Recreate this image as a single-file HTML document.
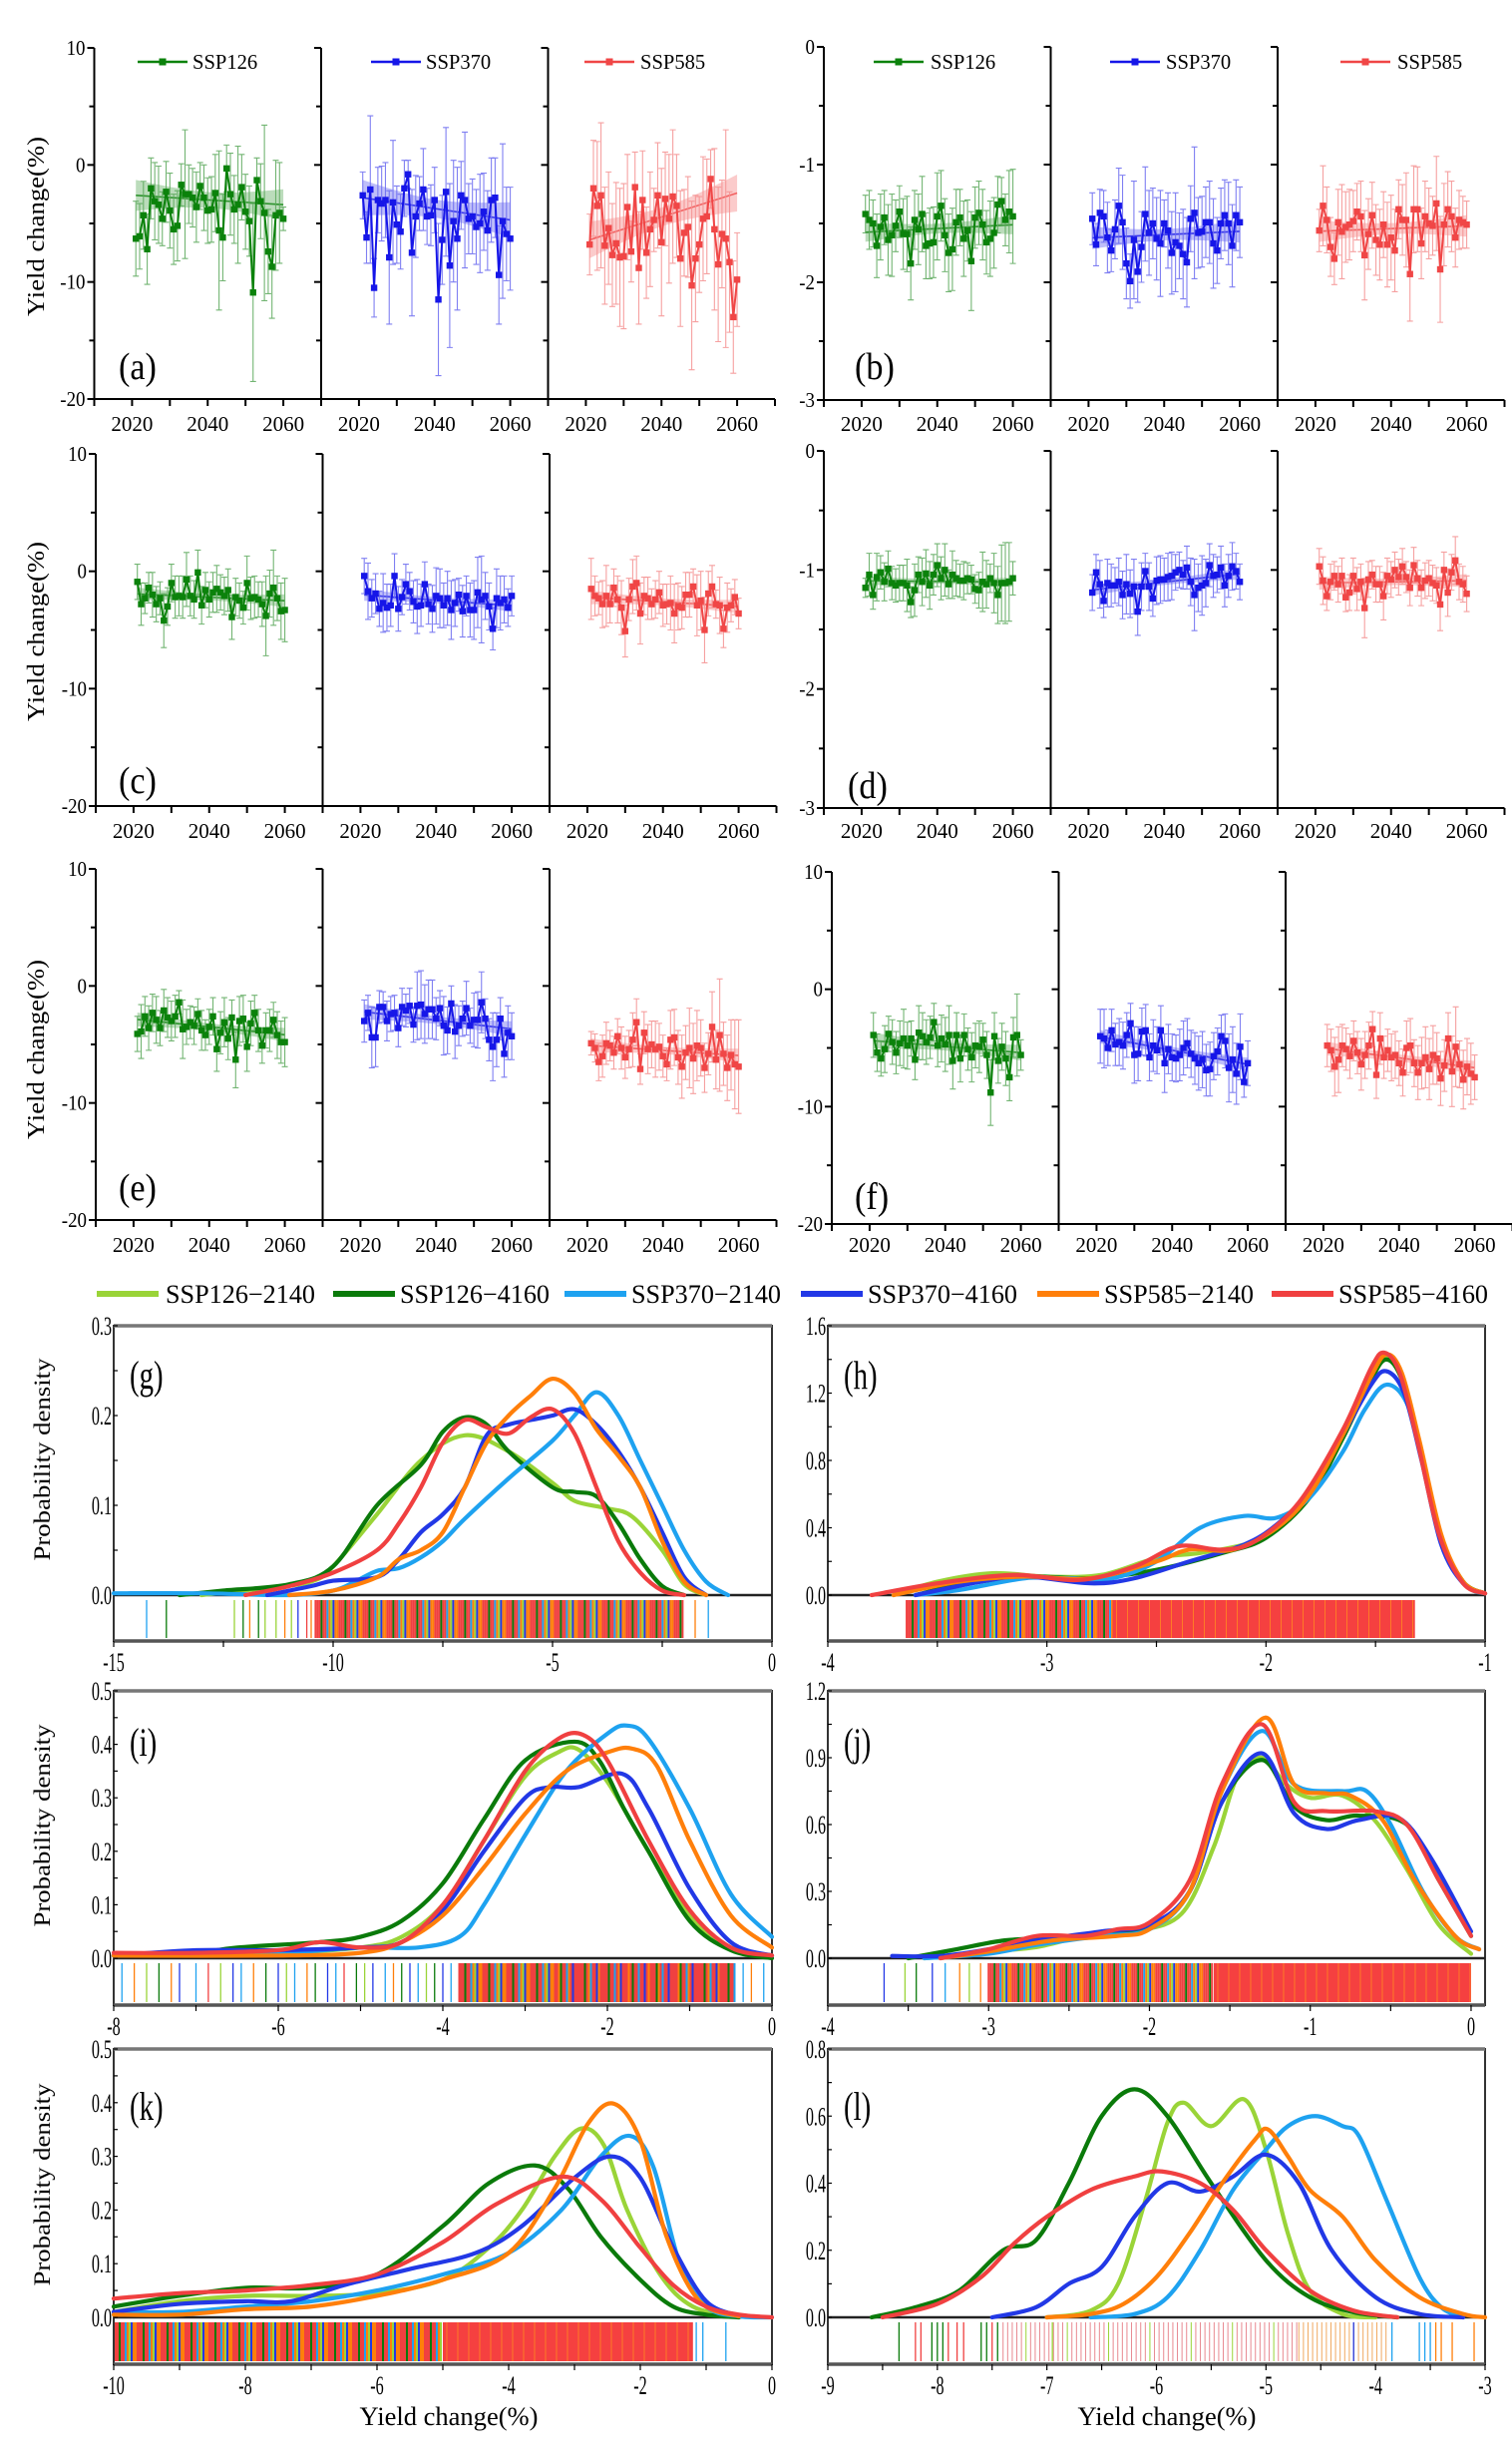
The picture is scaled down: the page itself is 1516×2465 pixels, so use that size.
<!DOCTYPE html>
<html><head><meta charset="utf-8"><style>
html,body{margin:0;padding:0;background:#fff}
svg{display:block}
text{font-family:"Liberation Serif","Times New Roman",serif;fill:#000}
</style></head><body>
<svg id="fig" xmlns="http://www.w3.org/2000/svg" width="1516" height="2465" viewBox="0 0 1516 2465" font-family="Liberation Serif, Times New Roman, serif"></svg>
<script>
// ===== Time-series data (2021-2060) =====
const years = [2021,2022,2023,2024,2025,2026,2027,2028,2029,2030,2031,2032,2033,2034,2035,2036,2037,2038,2039,2040,2041,2042,2043,2044,2045,2046,2047,2048,2049,2050,2051,2052,2053,2054,2055,2056,2057,2058,2059,2060];
const a126 = [-6.3,-6.1,-4.3,-7.2,-2.0,-3.1,-3.4,-4.6,-2.3,-3.9,-5.5,-5.2,-1.7,-2.5,-2.5,-2.8,-3.6,-1.8,-2.8,-3.9,-3.8,-2.4,-5.6,-6.2,-0.3,-2.5,-3.8,-3.4,-1.9,-4.0,-4.8,-10.9,-1.3,-3.1,-4.1,-7.4,-8.7,-4.3,-4.1,-4.6];
const a370 = [-2.6,-6.2,-2.1,-10.5,-3.0,-3.3,-3.0,-7.9,-3.2,-5.1,-5.7,-2.0,-0.8,-7.5,-4.4,-3.3,-2.1,-4.4,-4.3,-3.0,-11.5,-6.4,-2.3,-8.6,-4.8,-6.3,-2.6,-3.0,-4.6,-4.4,-5.3,-5.0,-4.0,-5.6,-3.0,-2.8,-9.4,-4.8,-5.9,-6.3];
const a585 = [-6.8,-2.0,-3.5,-2.6,-6.9,-5.4,-7.7,-6.7,-7.9,-7.8,-3.6,-7.4,-1.9,-8.8,-3.0,-7.5,-5.5,-4.7,-2.6,-6.6,-2.9,-4.6,-2.7,-3.5,-8.0,-5.8,-5.3,-10.3,-8.0,-6.8,-4.6,-4.4,-1.2,-5.5,-8.5,-5.9,-6.3,-8.3,-13.0,-9.8];
const a126e = [3.2,2.8,2.9,3.0,2.6,3.3,3.3,2.3,2.6,3.2,3.0,3.0,1.8,5.5,2.5,2.5,3.0,2.0,2.8,2.8,2.8,3.3,6.8,3.7,2.0,3.5,2.9,5.0,2.8,3.2,3.0,7.6,1.9,3.2,7.5,3.6,4.4,4.7,4.3,1.0];
const a370e = [2.0,2.2,6.3,2.5,2.8,3.2,3.2,5.7,5.3,3.3,3.2,2.4,1.2,5.4,3.5,2.3,3.5,2.4,2.6,2.8,6.5,3.8,5.5,7.0,5.2,6.1,2.9,5.8,3.0,3.2,3.2,4.2,3.3,3.4,3.6,3.4,4.2,6.6,4.0,4.4];
const a585e = [2.6,4.1,5.5,6.2,5.0,4.8,4.4,5.2,5.9,6.2,4.5,2.6,3.0,4.8,4.2,3.9,4.9,2.7,4.5,6.3,4.0,5.5,5.7,4.4,5.8,3.7,4.3,7.2,5.4,4.1,5.3,4.9,2.5,6.9,6.6,4.6,9.3,6.0,4.8,4.0];
const trendA = [[-2.6,-3.4],[-2.8,-4.7],[-6.4,-2.4]];
const b126 = [-1.42,-1.47,-1.50,-1.69,-1.53,-1.45,-1.64,-1.60,-1.52,-1.40,-1.59,-1.59,-1.84,-1.47,-1.55,-1.42,-1.69,-1.67,-1.66,-1.44,-1.35,-1.60,-1.75,-1.72,-1.49,-1.45,-1.63,-1.56,-1.82,-1.45,-1.41,-1.51,-1.66,-1.63,-1.58,-1.34,-1.31,-1.47,-1.40,-1.44];
const b370 = [-1.46,-1.68,-1.41,-1.44,-1.62,-1.73,-1.55,-1.35,-1.49,-1.84,-1.99,-1.64,-1.91,-1.70,-1.42,-1.58,-1.50,-1.63,-1.67,-1.50,-1.56,-1.75,-1.66,-1.69,-1.76,-1.83,-1.46,-1.41,-1.58,-1.57,-1.49,-1.49,-1.67,-1.73,-1.50,-1.43,-1.50,-1.69,-1.43,-1.49];
const b585 = [-1.56,-1.35,-1.47,-1.70,-1.80,-1.49,-1.57,-1.53,-1.51,-1.48,-1.40,-1.44,-1.77,-1.59,-1.43,-1.64,-1.68,-1.51,-1.68,-1.62,-1.73,-1.38,-1.47,-1.47,-1.93,-1.38,-1.38,-1.67,-1.44,-1.50,-1.52,-1.33,-1.89,-1.51,-1.38,-1.44,-1.62,-1.47,-1.49,-1.51];
const b126e = [0.16,0.25,0.2,0.27,0.28,0.23,0.3,0.35,0.22,0.22,0.3,0.32,0.31,0.25,0.3,0.32,0.28,0.3,0.3,0.37,0.3,0.31,0.33,0.35,0.28,0.24,0.32,0.26,0.42,0.26,0.27,0.3,0.27,0.32,0.3,0.24,0.2,0.22,0.35,0.4];
const b370e = [0.22,0.18,0.2,0.22,0.3,0.18,0.25,0.32,0.4,0.3,0.23,0.5,0.26,0.3,0.4,0.36,0.3,0.35,0.45,0.2,0.32,0.35,0.42,0.28,0.38,0.38,0.28,0.56,0.3,0.3,0.3,0.35,0.38,0.28,0.3,0.3,0.35,0.35,0.3,0.3];
const b585e = [0.18,0.34,0.28,0.25,0.22,0.28,0.4,0.3,0.3,0.26,0.24,0.3,0.38,0.3,0.28,0.3,0.3,0.28,0.36,0.36,0.35,0.25,0.3,0.4,0.4,0.37,0.36,0.3,0.3,0.3,0.25,0.4,0.45,0.35,0.32,0.3,0.25,0.25,0.22,0.2];
const c126 = [-0.9,-2.8,-2.3,-1.4,-2.0,-2.8,-2.3,-4.2,-3.0,-1.0,-2.2,-2.1,-2.2,-0.7,-2.1,-2.4,-0.1,-2.9,-1.6,-2.4,-1.8,-1.5,-1.8,-2.1,-1.6,-3.9,-2.2,-2.5,-3.1,-1.0,-2.3,-2.2,-2.4,-2.8,-3.8,-1.9,-1.4,-2.3,-3.4,-3.3];
const c370 = [-0.4,-1.7,-2.3,-1.9,-3.2,-2.7,-3.1,-2.9,-0.4,-3.2,-2.2,-1.1,-1.7,-2.6,-3.0,-2.9,-1.1,-2.8,-3.2,-2.1,-2.3,-2.9,-2.3,-3.3,-2.7,-2.0,-3.4,-2.1,-3.3,-3.3,-1.8,-2.4,-2.1,-3.0,-4.9,-2.3,-2.7,-2.4,-3.1,-2.1];
const c585 = [-1.5,-2.1,-2.3,-2.8,-2.1,-2.8,-1.4,-2.4,-3.1,-5.1,-2.4,-1.3,-1.0,-3.6,-2.1,-2.3,-2.8,-2.4,-1.8,-2.9,-2.8,-2.7,-3.6,-3.0,-3.1,-2.0,-2.0,-1.3,-2.9,-2.5,-5.0,-1.9,-1.3,-2.8,-2.9,-4.9,-3.1,-2.9,-2.2,-3.6];
const c126e = [1.5,1.8,1.3,1.3,1.9,1.5,1.4,2.3,1.6,1.6,1.8,1.7,1.8,2.3,1.7,1.6,1.9,1.6,1.5,1.5,1.7,2.0,1.5,1.6,1.8,1.9,1.6,1.5,1.4,2.3,1.8,1.8,1.5,1.9,3.4,2.0,3.2,1.9,2.4,2.7];
const c370e = [1.5,2.4,1.6,1.7,1.5,2.5,2.0,1.8,1.9,1.9,1.5,1.7,1.6,1.8,2.3,1.8,1.9,1.7,2.0,2.4,2.5,1.9,2.3,2.5,2.0,1.4,2.2,1.7,2.3,2.5,3.0,3.7,2.0,2.0,1.8,2.5,2.3,2.0,1.6,1.7];
const c585e = [2.6,1.7,1.4,2.0,2.6,1.6,1.6,2.0,2.3,2.2,1.8,2.3,2.3,2.6,1.6,1.8,1.3,1.6,1.8,1.8,1.7,2.3,2.5,2.0,1.8,1.9,1.9,1.5,2.6,2.5,2.8,1.9,1.8,1.2,2.4,1.6,2.1,1.4,1.5,1.3];
const d126 = [-1.15,-1.04,-1.21,-1.06,-1.02,-1.10,-0.99,-1.11,-1.13,-1.11,-1.11,-1.13,-1.27,-1.17,-1.04,-1.10,-1.03,-1.13,-1.04,-0.96,-1.07,-1.00,-1.12,-1.04,-1.07,-1.09,-1.09,-1.07,-1.08,-1.16,-1.17,-1.10,-1.12,-1.07,-1.11,-1.21,-1.11,-1.11,-1.10,-1.07];
const d370 = [-1.19,-1.02,-1.12,-1.26,-1.11,-1.13,-1.13,-1.10,-1.21,-1.12,-1.20,-1.14,-1.35,-1.14,-1.01,-1.14,-1.24,-1.09,-1.08,-1.08,-1.06,-1.05,-1.02,-1.00,-1.04,-0.98,-1.10,-1.21,-1.15,-1.13,-1.11,-0.96,-1.05,-1.04,-0.98,-1.13,-1.05,-0.97,-1.01,-1.10];
const d585 = [-0.97,-1.09,-1.22,-1.10,-1.05,-1.12,-1.05,-1.23,-1.19,-1.05,-1.16,-1.10,-1.32,-1.08,-1.04,-1.12,-1.12,-1.22,-1.05,-1.08,-1.00,-1.06,-0.97,-1.06,-1.15,-0.96,-1.07,-1.15,-1.09,-1.07,-1.11,-1.13,-1.29,-1.00,-1.19,-1.02,-0.92,-1.10,-1.12,-1.20];
const d126e = [0.08,0.18,0.12,0.2,0.14,0.16,0.15,0.14,0.14,0.15,0.15,0.22,0.13,0.22,0.15,0.2,0.2,0.2,0.17,0.18,0.18,0.22,0.12,0.2,0.15,0.14,0.16,0.13,0.12,0.12,0.15,0.25,0.2,0.12,0.25,0.24,0.32,0.34,0.33,0.14];
const d370e = [0.15,0.15,0.2,0.14,0.2,0.18,0.15,0.2,0.2,0.25,0.2,0.23,0.2,0.2,0.15,0.2,0.15,0.2,0.2,0.18,0.2,0.2,0.15,0.15,0.12,0.18,0.2,0.3,0.2,0.25,0.2,0.18,0.18,0.15,0.18,0.18,0.18,0.2,0.15,0.15];
const d585e = [0.15,0.2,0.12,0.15,0.12,0.15,0.15,0.12,0.15,0.15,0.18,0.15,0.25,0.15,0.12,0.15,0.15,0.2,0.15,0.15,0.15,0.15,0.15,0.13,0.15,0.15,0.15,0.15,0.15,0.15,0.15,0.15,0.22,0.15,0.2,0.15,0.2,0.15,0.15,0.15];
const e126 = [-4.1,-3.9,-2.6,-3.6,-2.3,-2.9,-3.6,-2.1,-2.7,-3.0,-2.6,-1.4,-3.7,-3.5,-3.1,-3.4,-2.4,-3.8,-4.2,-3.5,-2.6,-5.4,-4.0,-3.1,-4.5,-2.7,-6.3,-3.0,-2.8,-5.2,-3.2,-2.3,-3.8,-5.1,-3.8,-3.8,-2.9,-4.2,-4.8,-4.8];
const e370 = [-3.0,-2.3,-4.4,-4.4,-1.8,-1.8,-3.0,-2.4,-2.3,-3.6,-1.8,-2.1,-1.7,-3.3,-1.7,-1.6,-2.4,-2.0,-2.0,-2.8,-1.9,-3.4,-3.8,-1.5,-3.9,-3.4,-2.8,-1.9,-3.4,-2.9,-2.9,-1.4,-2.8,-4.6,-5.2,-4.6,-2.8,-5.8,-4.0,-4.3];
const e585 = [-4.9,-5.3,-6.5,-6.0,-4.9,-5.1,-5.7,-4.3,-5.3,-6.1,-5.4,-4.6,-3.1,-7.1,-4.0,-5.4,-5.0,-5.4,-5.2,-6.0,-6.7,-4.6,-4.4,-6.1,-6.9,-5.7,-5.3,-6.2,-5.1,-5.3,-7.0,-5.8,-3.5,-6.3,-4.2,-5.8,-7.0,-5.9,-6.7,-6.9];
const e126e = [1.5,2.3,1.7,1.9,1.6,2.0,1.5,1.8,1.7,1.7,1.8,1.0,2.5,1.5,1.4,1.6,1.3,1.7,1.3,1.5,1.6,1.9,1.8,2.1,1.8,1.5,2.4,2.1,2.0,2.1,1.9,1.5,1.8,1.5,1.5,1.8,1.5,2.0,1.8,2.1];
const e370e = [1.8,1.5,2.6,2.5,1.4,1.3,1.7,1.5,1.5,1.6,1.6,1.4,1.5,1.5,2.9,2.9,2.5,2.5,2.5,1.8,1.5,2.5,2.0,1.5,2.3,1.7,1.5,2.3,1.5,2.3,2.4,2.6,1.7,1.8,2.9,2.3,1.8,2.0,2.3,2.0];
const e585e = [1.0,1.2,1.6,1.8,1.8,1.3,1.4,1.5,1.8,1.8,1.6,2.3,2.0,1.3,1.8,2.1,2.0,2.4,2.0,1.8,1.4,2.5,2.4,2.3,2.7,2.3,3.4,3.0,3.0,2.4,2.1,1.8,3.0,2.5,4.8,2.7,2.8,3.0,3.8,4.0];
const f126 = [-3.9,-5.4,-5.9,-5.1,-3.8,-4.5,-5.4,-4.6,-4.2,-4.8,-4.2,-6.0,-3.7,-4.0,-4.5,-4.1,-2.8,-4.8,-4.2,-4.7,-3.9,-6.1,-3.9,-5.9,-3.9,-5.1,-5.8,-4.8,-4.9,-4.3,-5.6,-8.8,-4.0,-6.1,-4.9,-5.9,-7.5,-4.1,-3.9,-5.6];
const f370 = [-4.0,-4.2,-5.0,-3.5,-4.7,-4.5,-4.8,-3.9,-2.9,-5.6,-5.5,-3.6,-3.5,-5.8,-4.8,-5.2,-3.5,-6.3,-5.1,-5.8,-5.9,-5.6,-5.0,-4.6,-5.5,-5.9,-6.3,-6.0,-6.9,-6.8,-5.7,-5.3,-4.0,-4.4,-6.7,-6.0,-7.2,-4.9,-7.9,-6.3];
const f585 = [-4.8,-5.2,-6.6,-6.0,-4.8,-5.1,-5.7,-4.4,-5.4,-6.4,-5.6,-4.8,-3.4,-7.3,-4.2,-5.8,-5.2,-5.8,-5.6,-6.3,-7.1,-5.0,-4.8,-6.3,-7.1,-6.3,-5.8,-6.8,-5.6,-5.9,-7.6,-6.5,-4.2,-7.0,-4.9,-6.4,-7.7,-6.6,-7.2,-7.5];
const f126e = [1.9,1.6,1.5,2.0,1.5,1.9,1.8,1.9,2.5,2.0,1.5,1.7,2.3,2.0,1.9,1.8,1.6,1.8,2.0,2.3,2.5,2.4,1.9,2.0,1.8,1.8,2.1,1.9,2.2,1.4,2.0,2.8,2.0,1.9,2.0,2.3,2.0,1.7,3.5,1.3];
const f370e = [2.3,2.5,1.5,1.8,1.8,2.0,2.0,1.9,1.7,2.4,2.3,2.0,2.2,2.0,2.2,2.0,2.1,2.5,2.1,2.0,2.0,2.2,2.3,2.1,2.0,2.2,2.3,2.4,2.2,2.3,2.0,2.0,1.8,2.3,2.9,2.8,2.6,2.8,1.3,1.9];
const f585e = [1.8,1.8,2.5,2.8,1.8,1.8,1.9,1.7,1.8,2.2,2.0,2.0,1.5,2.0,2.2,1.8,1.8,2.0,2.0,1.9,2.0,2.3,2.3,2.0,2.3,2.2,2.6,2.6,2.5,2.2,2.3,2.2,2.2,3.0,3.4,2.0,2.5,2.4,2.6,1.9];
const yearTicks = [2020,2040,2060];
const tsScenarios = ['SSP126','SSP370','SSP585'];

// ===== Density curve data: [x, density] =====
const densLabels = ['SSP126\u22122140','SSP126\u22124160','SSP370\u22122140','SSP370\u22124160','SSP585\u22122140','SSP585\u22124160'];
const gLG=[[-13,0],[-11.5,0.008],[-10.5,0.015],[-10,0.032],[-9,0.09],[-8,0.15],[-7,0.178],[-6,0.16],[-5,0.125],[-4.5,0.105],[-3.8,0.097],[-3.2,0.088],[-2.5,0.05],[-2,0.012],[-1.5,0]];
const gDG=[[-13.5,0],[-12.5,0.005],[-11,0.012],[-10,0.032],[-9,0.1],[-8,0.145],[-7.5,0.182],[-7,0.198],[-6.5,0.19],[-6,0.16],[-5,0.12],[-4.5,0.115],[-4,0.11],[-3.5,0.08],[-3,0.04],[-2.5,0.01],[-2,0]];
const gLB=[[-15,0.002],[-13,0.002],[-11,0],[-10,0.005],[-9.5,0.015],[-9,0.027],[-8.5,0.03],[-8,0.042],[-7.5,0.06],[-7,0.085],[-6,0.13],[-5,0.172],[-4.5,0.2],[-4,0.226],[-3.5,0.2],[-3,0.15],[-2.5,0.1],[-2,0.05],[-1.5,0.015],[-1,0]];
const gBL=[[-11.5,0],[-10.5,0.01],[-10,0.016],[-9,0.02],[-8.5,0.04],[-8,0.07],[-7.5,0.09],[-7,0.12],[-6.5,0.178],[-6,0.19],[-5.5,0.195],[-5,0.2],[-4.5,0.207],[-4,0.19],[-3.5,0.16],[-3,0.12],[-2.5,0.07],[-2,0.02],[-1.5,0]];
const gOR=[[-11,0],[-10,0.005],[-9,0.02],[-8.5,0.04],[-8,0.05],[-7.5,0.07],[-7,0.12],[-6.5,0.17],[-6,0.2],[-5.5,0.222],[-5,0.241],[-4.5,0.225],[-4,0.185],[-3.5,0.155],[-3,0.12],[-2.5,0.06],[-2,0.015],[-1.5,0]];
const gRD=[[-12,0],[-11,0.01],[-10,0.025],[-9,0.05],[-8.5,0.08],[-8,0.12],[-7.5,0.17],[-7,0.195],[-6.5,0.187],[-6,0.18],[-5.5,0.198],[-5,0.207],[-4.5,0.18],[-4,0.12],[-3.5,0.06],[-3,0.025],[-2.5,0.005],[-2,0]];
const hLG=[[-3.7,0],[-3.5,0.08],[-3.25,0.13],[-3,0.11],[-2.75,0.12],[-2.5,0.22],[-2.3,0.25],[-2.1,0.3],[-2,0.35],[-1.8,0.6],[-1.65,0.95],[-1.52,1.3],[-1.45,1.42],[-1.38,1.3],[-1.3,0.9],[-1.2,0.35],[-1.1,0.08],[-1,0.01]];
const hDG=[[-3.6,0],[-3.4,0.06],[-3.1,0.11],[-2.8,0.1],[-2.5,0.15],[-2.2,0.25],[-2,0.34],[-1.8,0.58],[-1.65,0.93],[-1.52,1.28],[-1.45,1.4],[-1.38,1.28],[-1.3,0.9],[-1.2,0.35],[-1.1,0.08],[-1,0.01]];
const hLB=[[-3.6,0],[-3.4,0.03],[-3.1,0.1],[-2.9,0.1],[-2.7,0.1],[-2.5,0.2],[-2.3,0.4],[-2.1,0.47],[-1.95,0.46],[-1.8,0.58],[-1.65,0.85],[-1.55,1.1],[-1.45,1.25],[-1.35,1.12],[-1.27,0.7],[-1.18,0.25],[-1.08,0.05],[-1,0.01]];
const hBL=[[-3.6,0],[-3.3,0.08],[-3.1,0.11],[-2.8,0.07],[-2.6,0.1],[-2.35,0.2],[-2.1,0.3],[-1.95,0.42],[-1.8,0.62],[-1.65,0.95],[-1.52,1.25],[-1.45,1.33],[-1.37,1.2],[-1.29,0.8],[-1.2,0.3],[-1.1,0.07],[-1,0.01]];
const hOR=[[-3.7,0],[-3.4,0.08],[-3.1,0.11],[-2.8,0.1],[-2.5,0.2],[-2.35,0.27],[-2.15,0.27],[-1.95,0.4],[-1.8,0.6],[-1.65,0.95],[-1.52,1.3],[-1.45,1.43],[-1.38,1.32],[-1.3,0.92],[-1.2,0.36],[-1.1,0.08],[-1,0.01]];
const hRD=[[-3.8,0],[-3.5,0.07],[-3.15,0.12],[-2.85,0.09],[-2.6,0.17],[-2.4,0.29],[-2.2,0.27],[-2.05,0.32],[-1.85,0.55],[-1.65,0.98],[-1.52,1.35],[-1.46,1.44],[-1.39,1.32],[-1.31,0.92],[-1.21,0.36],[-1.1,0.07],[-1,0.01]];
const iLG=[[-8,0.005],[-6,0.01],[-5,0.02],[-4.5,0.04],[-4,0.1],[-3.5,0.22],[-3,0.34],[-2.6,0.385],[-2.35,0.39],[-2,0.33],[-1.5,0.2],[-1,0.08],[-0.5,0.02],[0,0.005]];
const iDG=[[-8,0.005],[-7,0.01],[-6.5,0.02],[-5.5,0.03],[-5,0.04],[-4.5,0.07],[-4,0.14],[-3.5,0.26],[-3,0.37],[-2.4,0.405],[-2.1,0.37],[-1.8,0.28],[-1.5,0.2],[-1,0.07],[-0.5,0.015],[0,0]];
const iLB=[[-8,0.005],[-6,0.01],[-5,0.02],[-4.3,0.02],[-3.8,0.04],[-3.5,0.1],[-3,0.23],[-2.5,0.35],[-2,0.42],[-1.76,0.435],[-1.5,0.41],[-1,0.28],[-0.5,0.12],[0,0.04]];
const iBL=[[-8,0.005],[-7,0.015],[-6,0.015],[-5,0.02],[-4.5,0.03],[-4,0.09],[-3.5,0.2],[-3,0.3],[-2.7,0.32],[-2.35,0.32],[-1.82,0.345],[-1.5,0.28],[-1,0.13],[-0.5,0.03],[0,0.005]];
const iOR=[[-8,0.005],[-6,0.005],[-5,0.01],[-4.5,0.03],[-4,0.08],[-3.5,0.17],[-3,0.27],[-2.5,0.35],[-2,0.385],[-1.7,0.392],[-1.4,0.36],[-1,0.22],[-0.5,0.08],[0,0.02]];
const iRD=[[-8,0.01],[-7,0.01],[-6,0.015],[-5.5,0.03],[-5,0.02],[-4.5,0.03],[-4,0.1],[-3.5,0.22],[-3,0.35],[-2.6,0.41],[-2.3,0.418],[-2,0.37],[-1.5,0.22],[-1,0.09],[-0.5,0.02],[0,0.005]];
const jLG=[[-3.4,0],[-3,0.03],[-2.7,0.05],[-2.4,0.1],[-2.1,0.12],[-1.8,0.2],[-1.6,0.5],[-1.45,0.82],[-1.3,0.9],[-1.15,0.78],[-1,0.72],[-0.8,0.73],[-0.6,0.62],[-0.4,0.4],[-0.2,0.15],[0,0.02]];
const jDG=[[-3.5,0],[-3.2,0.04],[-2.9,0.08],[-2.6,0.09],[-2.3,0.11],[-2,0.14],[-1.75,0.3],[-1.55,0.7],[-1.3,0.89],[-1.1,0.68],[-0.9,0.62],[-0.7,0.64],[-0.4,0.6],[-0.2,0.35],[0,0.1]];
const jLB=[[-3.4,0],[-3,0.02],[-2.7,0.06],[-2.3,0.1],[-2,0.13],[-1.75,0.3],[-1.55,0.75],[-1.3,1.02],[-1.1,0.78],[-0.8,0.75],[-0.65,0.75],[-0.5,0.6],[-0.3,0.3],[-0.1,0.1],[0.05,0.04]];
const jBL=[[-3.6,0.01],[-3.3,0.01],[-3,0.04],[-2.7,0.08],[-2.3,0.12],[-2,0.15],[-1.75,0.3],[-1.55,0.7],[-1.3,0.92],[-1.1,0.65],[-0.9,0.58],[-0.7,0.62],[-0.45,0.63],[-0.25,0.45],[0,0.12]];
const jOR=[[-3.3,0],[-3,0.03],[-2.6,0.08],[-2.2,0.1],[-2,0.13],[-1.75,0.3],[-1.55,0.75],[-1.28,1.08],[-1.1,0.78],[-0.9,0.74],[-0.75,0.73],[-0.55,0.62],[-0.35,0.35],[-0.1,0.1],[0.05,0.04]];
const jRD=[[-3.3,0],[-3,0.04],[-2.7,0.1],[-2.4,0.1],[-2.2,0.13],[-2,0.16],[-1.75,0.35],[-1.55,0.78],[-1.3,1.05],[-1.1,0.7],[-0.9,0.66],[-0.6,0.66],[-0.4,0.6],[-0.2,0.35],[0,0.1]];
const kLG=[[-10,0.01],[-9,0.03],[-8,0.04],[-7,0.04],[-6,0.045],[-5,0.07],[-4.3,0.13],[-3.8,0.2],[-3.3,0.3],[-2.9,0.352],[-2.55,0.32],[-2.2,0.2],[-1.7,0.08],[-1.2,0.02],[-0.5,0]];
const kDG=[[-10,0.02],[-9,0.04],[-8,0.055],[-7,0.055],[-6,0.08],[-5,0.17],[-4.3,0.25],[-3.6,0.283],[-3.1,0.24],[-2.6,0.15],[-2,0.07],[-1.5,0.02],[-1,0.005],[-0.5,0]];
const kLB=[[-10,0.01],[-9,0.01],[-8,0.02],[-7,0.03],[-6,0.05],[-5,0.08],[-4,0.12],[-3.2,0.2],[-2.6,0.3],[-2.15,0.338],[-1.8,0.28],[-1.4,0.1],[-1,0.02],[-0.5,0.002],[0,0]];
const kBL=[[-10,0.01],[-9,0.025],[-8,0.03],[-7.3,0.03],[-6.5,0.06],[-5.5,0.09],[-4.5,0.12],[-3.8,0.17],[-3,0.26],[-2.45,0.3],[-2,0.26],[-1.5,0.13],[-1,0.03],[-0.5,0.003]];
const kOR=[[-10,0.005],[-9,0.005],[-8,0.015],[-7,0.02],[-6,0.04],[-5,0.07],[-4,0.12],[-3.3,0.24],[-2.8,0.36],[-2.4,0.398],[-2,0.33],[-1.6,0.15],[-1.1,0.03],[-0.5,0.002]];
const kRD=[[-10,0.035],[-9,0.045],[-8,0.05],[-7,0.06],[-6,0.08],[-5,0.14],[-4.2,0.21],[-3.2,0.262],[-2.6,0.22],[-2,0.13],[-1.5,0.06],[-1,0.02],[-0.5,0.005],[0,0]];
const lLG=[[-7,0],[-6.6,0.02],[-6.35,0.1],[-6.1,0.35],[-5.9,0.58],[-5.75,0.64],[-5.5,0.57],[-5.2,0.65],[-5,0.5],[-4.8,0.25],[-4.6,0.08],[-4.3,0.01],[-4,0]];
const lDG=[[-8.6,0],[-8.2,0.03],[-7.8,0.08],[-7.4,0.2],[-7.1,0.23],[-6.8,0.4],[-6.5,0.6],[-6.2,0.68],[-5.9,0.6],[-5.5,0.4],[-5,0.17],[-4.6,0.06],[-4.2,0.015],[-3.8,0]];
const lLB=[[-6.6,0],[-6.2,0.01],[-5.9,0.06],[-5.6,0.2],[-5.3,0.38],[-5,0.5],[-4.8,0.57],[-4.55,0.6],[-4.3,0.57],[-4.15,0.54],[-3.9,0.35],[-3.6,0.12],[-3.4,0.03],[-3.2,0]];
const lBL=[[-7.5,0],[-7.1,0.03],[-6.8,0.1],[-6.5,0.15],[-6.2,0.3],[-5.9,0.4],[-5.6,0.375],[-5.3,0.42],[-5,0.485],[-4.7,0.4],[-4.4,0.2],[-4,0.06],[-3.6,0.01],[-3.2,0]];
const lOR=[[-7,0],[-6.6,0.01],[-6.3,0.04],[-6,0.12],[-5.7,0.25],[-5.4,0.4],[-5.1,0.53],[-4.98,0.56],[-4.8,0.48],[-4.6,0.38],[-4.3,0.3],[-4,0.17],[-3.6,0.06],[-3.2,0.01],[-3,0]];
const lRD=[[-8.5,0],[-8,0.04],[-7.6,0.12],[-7.3,0.22],[-7,0.3],[-6.6,0.38],[-6.2,0.42],[-5.95,0.435],[-5.6,0.4],[-5.3,0.32],[-5,0.2],[-4.6,0.08],[-4.2,0.02],[-3.8,0]];
// rug samples: [value, scenario index]
const gRug=[[-14.25,2],[-13.8,1],[-12.25,0],[-12.05,1],[-11.9,4],[-11.7,1],[-11.55,0],[-11.3,0],[-11.1,4],[-10.95,0],[-10.8,3],[-10.6,5],[-10.5,4],[-1.75,4],[-1.45,2]];
const iRug=[[-7.9,2],[-7.75,4],[-7.6,0],[-7.45,1],[-7.3,4],[-7.2,3],[-7.0,2],[-6.85,5],[-6.7,0],[-6.55,3],[-6.45,2],[-6.3,4],[-6.15,1],[-6.0,3],[-5.9,0],[-5.8,2],[-5.65,4],[-5.55,1],[-5.4,3],[-5.3,2],[-5.2,5],[-5.05,1],[-4.95,0],[-4.85,3],[-4.7,2],[-4.6,4],[-4.5,1],[-4.4,3],[-4.3,2],[-4.2,0],[-4.1,1],[-4.0,3],[-3.9,2],[-0.35,2],[-0.25,4],[-0.1,2]];
const jRug=[[-3.65,3],[-3.52,0],[-3.45,1],[-3.35,3],[-3.27,2],[-3.18,4],[-3.12,0],[-3.05,4]];
const kRug=[[-1.15,2],[-1.05,2],[-0.7,2]];
const lRug=[[-8.35,1],[-8.2,5],[-8.15,5],[-8.05,1],[-8.0,1],[-7.95,1],[-7.9,5],[-7.82,5],[-7.76,5],[-7.6,1],[-7.55,1],[-7.5,5],[-7.45,1],[-6.95,0],[-4.2,3],[-3.85,2],[-3.6,2],[-3.55,2],[-3.5,2],[-3.45,4],[-3.4,4],[-3.3,4],[-3.1,4]];
// rug dense regions: [from, to, mode]
const gDense=[[-10.4,-2.0,'mix']];
const hDense=[[-3.64,-2.7,'mix'],[-2.7,-1.32,'red']];
const iDense=[[-3.8,-0.45,'mixred']];
const jDense=[[-3.0,-1.6,'mix'],[-1.6,0,'red']];
const kDense=[[-10,-5,'mix'],[-5,-1.2,'red']];
const lDense=[[-7.4,-4.7,'thinred'],[-4.7,-3.9,'thinor']];

// ===== helpers =====
const NS='http://www.w3.org/2000/svg';
const svg=document.getElementById('fig');
function mk(tag,attrs,parent){const e=document.createElementNS(NS,tag);for(const k in attrs)e.setAttribute(k,attrs[k]);(parent||svg).appendChild(e);return e;}
function txt(x,y,s,size,anchor,sx,parent){const e=mk('text',{transform:`translate(${x} ${y}) scale(${sx||1} 1)`,'font-size':size,'text-anchor':anchor||'start','font-family':'Liberation Serif, Times New Roman, serif'},parent);e.textContent=s;return e;}
function smooth(pts){let d=`M${pts[0][0]},${pts[0][1]}`;for(let i=0;i<pts.length-1;i++){const p0=pts[i-1]||pts[i],p1=pts[i],p2=pts[i+1],p3=pts[i+2]||p2;const c1=[p1[0]+(p2[0]-p0[0])/6,p1[1]+(p2[1]-p0[1])/6],c2=[p2[0]-(p3[0]-p1[0])/6,p2[1]-(p3[1]-p1[1])/6];d+=`C${c1[0]},${c1[1]} ${c2[0]},${c2[1]} ${p2[0]},${p2[1]}`;}return d;}

// ===== Time series panels =====
const tsColors=['#0b820b','#1616e8','#f04646'];
const tsErrColors=['#5aa85a','#6a6af0','#f49090'];
const SUBW=227.5;
const tsGroups=[
 {id:'a',x0:94.5,top:48,bot:400,lab:432,ymin:-20,ymax:10,maj:10,min:5,fmt:v=>String(v),data:[a126,a370,a585],err:[a126e,a370e,a585e],trend:trendA,lx:119,ly:380,legend:[[138,193],[372,427],[586,642]],ylab:227},
 {id:'b',x0:826,top:47,bot:401,lab:432,ymin:-3,ymax:0,maj:1,min:0.5,fmt:v=>String(v),data:[b126,b370,b585],err:[b126e,b370e,b585e],lx:857,ly:380,legend:[[876,933],[1113,1169],[1344,1401]]},
 {id:'c',x0:96,top:455,bot:808,lab:840,ymin:-20,ymax:10,maj:10,min:5,fmt:v=>String(v),data:[c126,c370,c585],err:[c126e,c370e,c585e],lx:119,ly:795,ylab:633},
 {id:'d',x0:826,top:452,bot:810,lab:840,ymin:-3,ymax:0,maj:1,min:0.5,fmt:v=>String(v),data:[d126,d370,d585],err:[d126e,d370e,d585e],lx:850,ly:800},
 {id:'e',x0:96,top:871,bot:1223,lab:1255,ymin:-20,ymax:10,maj:10,min:5,fmt:v=>String(v),data:[e126,e370,e585],err:[e126e,e370e,e585e],lx:119,ly:1203,ylab:1052},
 {id:'f',x0:834,top:874,bot:1227,lab:1255,ymin:-20,ymax:10,maj:10,min:5,fmt:v=>String(v),data:[f126,f370,f585],err:[f126e,f370e,f585e],lx:857,ly:1212}
];
tsGroups.forEach(G=>{
 const g=mk('g',{});
 
 
 const ys=v=>G.bot-(v-G.ymin)/(G.ymax-G.ymin)*(G.bot-G.top);
 for(let s=0;s<3;s++){
  const xl=G.x0+s*SUBW;
  const ax=mk('line',{x1:xl,y1:G.top,x2:xl,y2:G.bot,stroke:'#000','stroke-width':2},g);
  
  
 }
 const xa=mk('line',{x1:G.x0-1,y1:G.bot,x2:G.x0+3*SUBW,y2:G.bot,stroke:'#000','stroke-width':2},g);
 
 
 for(let v=G.ymin;v<=G.ymax+1e-9;v+=G.min){
  const isMaj=Math.abs(v/G.maj-Math.round(v/G.maj))<1e-6;
  for(let s=0;s<3;s++){
   const xl=G.x0+s*SUBW;
   const tk=mk('line',{x1:xl-(isMaj?7:5),y1:ys(v),x2:xl,y2:ys(v),stroke:'#000','stroke-width':2},g);
   
   
  }
  if(isMaj){
   const t=txt(G.x0-9,ys(v)+7,G.fmt(Math.round(v*100)/100),21,'end',0.9,g);
   
   
  }
 }
 for(let s=0;s<3;s++){
  const xs=yr=>G.x0+s*SUBW+(yr-2010)/60*SUBW;
  for(let yr=2010;yr<=2070;yr+=10){
   const tk=mk('line',{x1:xs(yr),y1:G.bot,x2:xs(yr),y2:G.bot+7,stroke:'#000','stroke-width':2},g);
   
   
  }
  yearTicks.forEach(yr=>{
   const t=txt(xs(yr),G.lab,String(yr),21,'middle',1,g);
   
   
  });
  const vals=G.data[s],errs=G.err[s],col=tsColors[s];
  const sg=mk('g',{},g);
  
  
  const n=years.length;let xm=0,ym=0;years.forEach((y,i)=>{xm+=y;ym+=vals[i];});xm/=n;ym/=n;
  let sxx=0,sxy=0;years.forEach((y,i)=>{sxx+=(y-xm)**2;sxy+=(y-xm)*(vals[i]-ym);});
  let b=sxy/sxx,a=ym-b*xm;let sse=0;years.forEach((y,i)=>{sse+=(vals[i]-a-b*y)**2;});
  const sd=Math.sqrt(sse/(n-2));
  if(G.trend){const t0=G.trend[s][0],t1=G.trend[s][1];b=(t1-t0)/(years[n-1]-years[0]);a=t0-b*years[0];}
  const up=[],lo=[];
  years.forEach(y=>{const h=2.02*sd*Math.sqrt(1/n+(y-xm)**2/sxx);up.push(`${xs(y)},${ys(a+b*y+h)}`);lo.unshift(`${xs(y)},${ys(a+b*y-h)}`);});
  const band=mk('polygon',{points:up.concat(lo).join(' '),fill:col,'fill-opacity':0.28},sg);
  
  
  const fit=mk('line',{x1:xs(years[0]),y1:ys(a+b*years[0]),x2:xs(years[n-1]),y2:ys(a+b*years[n-1]),stroke:col,'stroke-width':1.6,'stroke-opacity':0.8},sg);
  
  
  years.forEach((y,i)=>{
   const x=xs(y),y1=ys(vals[i]+errs[i]),y2=ys(vals[i]-errs[i]);
   const eb=mk('path',{d:`M${x},${y1}V${y2}M${x-3},${y1}H${x+3}M${x-3},${y2}H${x+3}`,stroke:tsErrColors[s],'stroke-width':1.1,fill:'none','stroke-opacity':0.85},sg);
   
   
  });
  const ln=mk('polyline',{points:years.map((y,i)=>`${xs(y)},${ys(vals[i])}`).join(' '),fill:'none',stroke:col,'stroke-width':2},sg);
  
  
  years.forEach((y,i)=>{
   const m=mk('rect',{x:xs(y)-3.2,y:ys(vals[i])-3.2,width:6.4,height:6.4,fill:col},sg);
   
   
  });
  if(G.legend){
   const [lx,tx]=G.legend[s];
   const lg=mk('g',{},g);
   
   
   const l1=mk('line',{x1:lx,y1:62,x2:lx+50,y2:62,stroke:col,'stroke-width':2.5},lg);
   
   
   const l2=mk('rect',{x:lx+21.5,y:58.5,width:7,height:7,fill:col},lg);
   
   
   const lt=txt(tx,69,tsScenarios[s],21,'start',0.98,lg);
   
   
  }
 }
 const pl=txt(G.lx,G.ly,'('+G.id+')',38,'start',0.9,g);
 
 
 if(G.ylab){
  const yt=mk('text',{transform:`translate(44 ${G.ylab}) rotate(-90)`,'font-size':24,'text-anchor':'middle',textLength:180,lengthAdjust:'spacingAndGlyphs','font-family':'Liberation Serif, serif'},g);
  yt.textContent='Yield change(%)';
  
  
 }
});

// ===== Density legend =====
const dColors=['#9ad438','#0a7a0a','#1ea2f0','#2238e6','#ff7f0a','#f04040'];
const legPos=[[97,166],[334,401],[566,633],[803,870],[1040,1107],[1275,1342]];
densLabels.forEach((lab,i)=>{
 const lg=mk('g',{});
 
 
 const l=mk('line',{x1:legPos[i][0],y1:1297,x2:legPos[i][0]+62,y2:1297,stroke:dColors[i],'stroke-width':6},lg);
 
 
 const t=mk('text',{x:legPos[i][1],y:1306,'font-size':26,textLength:150,lengthAdjust:'spacingAndGlyphs','font-family':'Liberation Serif, serif'},lg);
 t.textContent=lab;
 
 
});

// ===== Density panels =====
const mixPal=['#f04040','#ff7f0a','#f04040','#2238e6','#f04040','#ff7f0a','#1ea2f0','#f04040','#9ad438','#0a7a0a','#ff7f0a','#f04040'];
const dPanels=[
 {id:'g',l:114,r:774,top:1329,zero:1599,bot:1645,xd:[-15,0],yd:[0,0.3],yt:[0,0.1,0.2,0.3],ym:0.05,xt:[-15,-10,-5,0],xm:2.5,curves:[gLG,gDG,gLB,gBL,gOR,gRD],rug:gRug,dense:gDense,lab:1392,ylab:1463},
 {id:'h',l:830,r:1489,top:1329,zero:1599,bot:1645,xd:[-4,-1],yd:[0,1.6],yt:[0,0.4,0.8,1.2,1.6],ym:0.2,xt:[-4,-3,-2,-1],xm:0.5,curves:[hLG,hDG,hLB,hBL,hOR,hRD],rug:[],dense:hDense,lab:1392},
 {id:'i',l:114,r:774,top:1695,zero:1963,bot:2010,xd:[-8,0],yd:[0,0.5],yt:[0,0.1,0.2,0.3,0.4,0.5],ym:0.05,xt:[-8,-6,-4,-2,0],xm:1,curves:[iLG,iDG,iLB,iBL,iOR,iRD],rug:iRug,dense:iDense,lab:1760,ylab:1830},
 {id:'j',l:830,r:1489,top:1695,zero:1963,bot:2010,xd:[-4,0.087],yd:[0,1.2],yt:[0,0.3,0.6,0.9,1.2],ym:0.15,xt:[-4,-3,-2,-1,0],xm:0.5,curves:[jLG,jDG,jLB,jBL,jOR,jRD],rug:jRug,dense:jDense,lab:1760},
 {id:'k',l:114,r:774,top:2054,zero:2323,bot:2370,xd:[-10,0],yd:[0,0.5],yt:[0,0.1,0.2,0.3,0.4,0.5],ym:0.05,xt:[-10,-8,-6,-4,-2,0],xm:1,curves:[kLG,kDG,kLB,kBL,kOR,kRD],rug:kRug,dense:kDense,lab:2125,ylab:2190,xtitle:450},
 {id:'l',l:830,r:1489,top:2054,zero:2323,bot:2370,xd:[-9,-3],yd:[0,0.8],yt:[0,0.2,0.4,0.6,0.8],ym:0.1,xt:[-9,-8,-7,-6,-5,-4,-3],xm:0.5,curves:[lLG,lDG,lLB,lBL,lOR,lRD],rug:lRug,dense:lDense,lab:2125,xtitle:1170}
];
dPanels.forEach(P=>{
 const g=mk('g',{});
 
 
 const xs=v=>P.l+(v-P.xd[0])/(P.xd[1]-P.xd[0])*(P.r-P.l);
 const ys=v=>P.zero-(v-P.yd[0])/(P.yd[1]-P.yd[0])*(P.zero-P.top);
 const rt=P.zero+5,rb=P.bot-3;
 P.dense.forEach(([a,b,mode])=>{
  const x1=xs(a),x2=xs(b);
  if(mode==='red'){
   const r=mk('rect',{x:x1,y:rt,width:x2-x1,height:rb-rt,fill:'#f54040'},g);
   
   
   for(let x=x1+4;x<x2;x+=11){
    const l=mk('line',{x1:x,y1:rt,x2:x,y2:rb,stroke:'#ff8a20','stroke-width':0.8},g);
    
    
   }
  } else if(mode==='thinred'||mode==='thinor'){
   for(let x=x1,k=0;x<x2;x+=4.6,k++){
    const l=mk('line',{x1:x,y1:rt,x2:x,y2:rb,stroke:mode==='thinred'?(k%9===5?'#9ad438':'#e88890'):'#f0a860','stroke-width':1},g);
    
    
   }
  } else {
   let k=0;
   for(let x=x1;x<x2;x+=2,k++){
    const frac=(x-x1)/(x2-x1);
    let c=mixPal[(k*7)%mixPal.length];
    if(mode==='mixred'&&frac>0.35&&k%3!==0)c=(k%5===0)?'#ff7f0a':'#f04040';
    const l=mk('line',{x1:x,y1:rt,x2:x,y2:rb,stroke:c,'stroke-width':2},g);
    
    
   }
  }
 });
 P.rug.forEach(([v,ci])=>{
  const l=mk('line',{x1:xs(v),y1:rt,x2:xs(v),y2:rb,stroke:dColors[ci],'stroke-width':1.3},g);
  
  
 });
 const fr=mk('path',{d:`M${P.l},${P.top}H${P.r}V${P.bot}H${P.l}Z`,fill:'none',stroke:'#333','stroke-width':2},g);
 
 
 const tb=mk('line',{x1:P.l,y1:P.top,x2:P.r,y2:P.top,stroke:'#777','stroke-width':3.5},g);
 
 
 const bb=mk('line',{x1:P.l,y1:P.bot,x2:P.r,y2:P.bot,stroke:'#555','stroke-width':3.5},g);
 
 
 const zl=mk('line',{x1:P.l,y1:P.zero,x2:P.r,y2:P.zero,stroke:'#222','stroke-width':2.5},g);
 
 
 for(let v=P.yd[0];v<=P.yd[1]+1e-9;v+=P.ym){
  const tk=mk('line',{x1:P.l,y1:ys(v),x2:P.l+4,y2:ys(v),stroke:'#000','stroke-width':1.2},g);
  
  
 }
 P.yt.forEach(v=>{
  const t=txt(P.l-2,ys(v)+9,v.toFixed(1),26,'end',0.62,g);
  
  
 });
 for(let v=P.xd[0];v<=P.xd[1]+1e-9;v+=P.xm){
  const tk=mk('line',{x1:xs(v),y1:P.bot,x2:xs(v),y2:P.bot+6,stroke:'#000','stroke-width':1.2},g);
  
  
 }
 P.xt.forEach(v=>{
  const t=txt(xs(v),P.bot+30,String(v),26,'middle',0.62,g);
  
  
 });
 P.curves.forEach((c,ci)=>{
  const pts=c.map(p=>[xs(p[0]),ys(p[1])]);
  const pa=mk('path',{d:smooth(pts),fill:'none',stroke:dColors[ci],'stroke-width':4.2,'stroke-linejoin':'round','stroke-linecap':'round'},g);
  
  
 });
 const pl=txt(P.l+16,P.lab,'('+P.id+')',40,'start',0.72,g);
 
 
 if(P.ylab){
  const yt=mk('text',{transform:`translate(50 ${P.ylab}) rotate(-90)`,'font-size':23,'text-anchor':'middle',textLength:203,lengthAdjust:'spacingAndGlyphs','font-family':'Liberation Serif, serif'},g);
  yt.textContent='Probability density';
  
  
 }
 if(P.xtitle){
  const xt=mk('text',{x:P.xtitle,y:2431,'font-size':26,'text-anchor':'middle',textLength:179,lengthAdjust:'spacingAndGlyphs','font-family':'Liberation Serif, serif'},g);
  xt.textContent='Yield change(%)';
  
  
 }
});
</script>
</body></html>
